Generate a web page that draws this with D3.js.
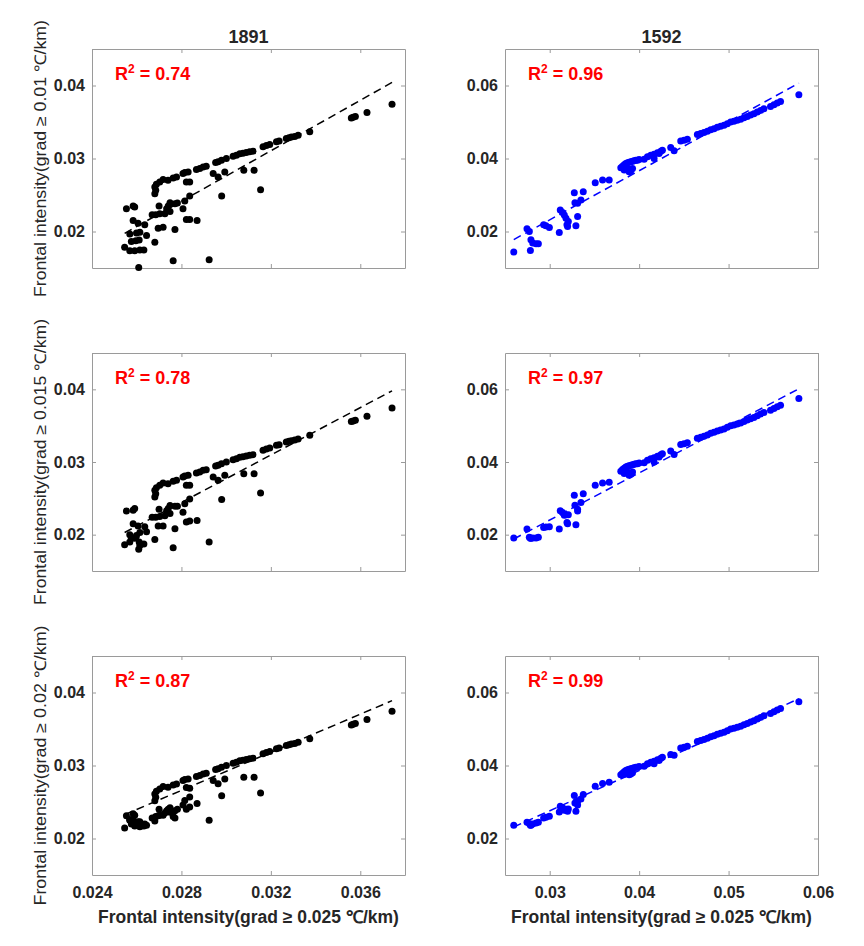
<!DOCTYPE html>
<html>
<head>
<meta charset="utf-8">
<script src="https://d3js.org/d3.v7.min.js"></script>
<style>
body { margin: 0; background: #fff; }
.ax .domain, .ax line { stroke: #9a9a9a; stroke-width: 1; }
.ax text { fill: #262626; font-size: 16px; font-weight: bold; font-family: 'Liberation Sans', Arial, sans-serif; }
</style>
</head>
<body>
<div id="chart"></div>
<script>
// ---- data ----
// left column (1891), shared x for the three rows
const xLeftUpper = [0.03742,0.03630,0.03578,0.03568,0.03560,0.03374,0.03322,0.03307,0.03292,0.03281,0.03269,0.03237,0.03225,0.03195,0.03180,0.03165,0.03120,0.03105,0.03090,0.03075,0.03061,0.03046,0.03031,0.03001,0.02979,0.02964,0.02953,0.02911,0.02897,0.02882,0.02867,0.02830,0.02815,0.02807,0.02778,0.02763,0.02740,0.02718,0.02703,0.02688,0.02681,0.02685,0.02681]
const yLeftUpper = [0.03744,0.03629,0.03574,0.03565,0.03556,0.03367,0.03317,0.03303,0.03294,0.03285,0.03275,0.03239,0.03230,0.03193,0.03179,0.03161,0.03101,0.03092,0.03083,0.03073,0.03064,0.03046,0.03032,0.03000,0.02977,0.02954,0.02945,0.02894,0.02885,0.02862,0.02849,0.02816,0.02807,0.02793,0.02748,0.02734,0.02702,0.02711,0.02679,0.02647,0.02610,0.02564,0.02518]
const xLeftLower = [0.02822,0.02837,0.02942,0.02964,0.02994,0.03079,0.03125,0.03154,0.02980,0.02837,0.02815,0.02807,0.02749,0.02741,0.02734,0.02749,0.02726,0.02771,0.02782,0.02700,0.02703,0.02685,0.02669,0.02822,0.02837,0.02870,0.02718,0.02696,0.02771,0.02681,0.02763,0.02924,0.02609,0.02554,0.02584,0.02591,0.02584,0.02606,0.02636,0.02569,0.02599,0.02614,0.02644,0.02576,0.02596,0.02611,0.02546,0.02569,0.02591,0.02614,0.02632]
const yLeftLowerTop = [0.02679,0.02679,0.02793,0.02748,0.02816,0.02839,0.02839,0.02573,0.02486,0.02486,0.02417,0.02311,0.02394,0.02348,0.02311,0.02275,0.02243,0.02380,0.02389,0.02348,0.02243,0.02229,0.02229,0.02165,0.02165,0.02151,0.02059,0.02045,0.02027,0.01853,0.01600,0.01614,0.01508,0.02311,0.02348,0.02334,0.02151,0.02114,0.02091,0.01967,0.01981,0.01990,0.01944,0.01862,0.01875,0.01885,0.01784,0.01738,0.01738,0.01747,0.01747]
const yLeftLowerMid = [0.02679,0.02679,0.02793,0.02748,0.02816,0.02839,0.02839,0.02575,0.02484,0.02492,0.02424,0.02310,0.02400,0.02360,0.02330,0.02290,0.02260,0.02390,0.02390,0.02350,0.02250,0.02240,0.02240,0.02173,0.02187,0.02196,0.02118,0.02118,0.02081,0.01935,0.01820,0.01900,0.01800,0.02324,0.02337,0.02360,0.02150,0.02120,0.02110,0.02000,0.01990,0.02030,0.02040,0.01950,0.01960,0.01900,0.01860,0.01900,0.01950,0.01850,0.01870]
const yLeftLowerBot = [0.02700,0.02690,0.02795,0.02750,0.02816,0.02839,0.02839,0.02622,0.02585,0.02567,0.02520,0.02460,0.02420,0.02400,0.02380,0.02360,0.02350,0.02380,0.02400,0.02400,0.02320,0.02300,0.02280,0.02400,0.02430,0.02480,0.02320,0.02310,0.02280,0.02240,0.02300,0.02250,0.02200,0.02310,0.02340,0.02320,0.02250,0.02230,0.02200,0.02250,0.02200,0.02230,0.02180,0.02200,0.02210,0.02190,0.02143,0.02260,0.02170,0.02160,0.02170]

// right column (1592), shared x for the three rows
const xRightLower = [0.02598,0.02784,0.02746,0.02772,0.02790,0.02810,0.02847,0.02873,0.02932,0.02958,0.02996,0.03107,0.03118,0.03144,0.03163,0.03182,0.03208,0.03193,0.03200,0.03275,0.03282,0.03312,0.03349,0.03375,0.03312,0.03293,0.03509,0.03591,0.03665]
const yRightLowerTop = [0.01437,0.01482,0.02073,0.02000,0.01773,0.01682,0.01664,0.01664,0.02182,0.02155,0.02109,0.01973,0.02591,0.02518,0.02455,0.02364,0.02273,0.02182,0.02136,0.03064,0.02791,0.02773,0.02864,0.03091,0.02409,0.02155,0.03336,0.03409,0.03409]
const yRightLowerMid = [0.01909,0.01900,0.02155,0.01927,0.01900,0.01910,0.01909,0.01927,0.02200,0.02210,0.02218,0.02155,0.02655,0.02610,0.02536,0.02550,0.02550,0.02337,0.02300,0.03082,0.02809,0.02700,0.02882,0.03127,0.02650,0.02270,0.03360,0.03420,0.03440]
const yRightLowerBot = [0.02362,0.02362,0.02445,0.02408,0.02362,0.02399,0.02426,0.02445,0.02563,0.02580,0.02609,0.02728,0.02884,0.02840,0.02774,0.02800,0.02810,0.02770,0.02750,0.03177,0.02975,0.03021,0.03085,0.03204,0.02920,0.02747,0.03433,0.03506,0.03542]
const xRightUpper = [0.03795,0.03814,0.03833,0.03851,0.03870,0.03888,0.03907,0.03926,0.03944,0.03963,0.03981,0.03888,0.03907,0.03870,0.03926,0.03833,0.04000,0.04056,0.04093,0.04130,0.04167,0.04205,0.04242,0.04260,0.04223,0.04167,0.04353,0.04391,0.04465,0.04502,0.04539,0.04651,0.04688,0.04725,0.04763,0.04800,0.04837,0.04874,0.04911,0.04949,0.04986,0.05023,0.05060,0.05097,0.05135,0.05172,0.05209,0.05246,0.05283,0.05321,0.05358,0.05395,0.05469,0.05507,0.05544,0.05581,0.05786]
const yRightUpperTop = [0.03745,0.03791,0.03827,0.03864,0.03882,0.03900,0.03909,0.03927,0.03936,0.03955,0.03955,0.03636,0.03664,0.03727,0.03727,0.03682,0.03973,0.03982,0.04045,0.04091,0.04118,0.04155,0.04200,0.04227,0.04136,0.04000,0.04300,0.04209,0.04482,0.04500,0.04527,0.04655,0.04682,0.04709,0.04745,0.04791,0.04818,0.04855,0.04882,0.04909,0.04955,0.05000,0.05018,0.05045,0.05073,0.05118,0.05154,0.05191,0.05227,0.05273,0.05318,0.05364,0.05427,0.05473,0.05518,0.05564,0.05745]
const yRightUpperBot = [0.03745,0.03791,0.03827,0.03864,0.03882,0.03900,0.03909,0.03927,0.03936,0.03955,0.03955,0.03750,0.03770,0.03780,0.03800,0.03760,0.03973,0.03982,0.04045,0.04091,0.04118,0.04155,0.04200,0.04227,0.04136,0.04050,0.04300,0.04280,0.04482,0.04500,0.04527,0.04655,0.04682,0.04709,0.04745,0.04791,0.04818,0.04855,0.04882,0.04909,0.04955,0.05000,0.05018,0.05045,0.05073,0.05118,0.05154,0.05191,0.05227,0.05273,0.05318,0.05364,0.05427,0.05473,0.05518,0.05564,0.05745]

// fitted lines y = a + b*x [row][col]
const fitSlope = [[1.728, 1.344], [1.630, 1.297], [1.305, 1.102]]
const fitIntercept = [[-0.02424, -0.01712], [-0.02120, -0.01488], [-0.00995, -0.00547]]
const r2Labels = [["0.74", "0.96"], ["0.78", "0.97"], ["0.87", "0.99"]]

const colTitles = ["1891", "1592"]
const rowTitles = ["Frontal intensity(grad \u2265 0.01 \u2103/km)", "Frontal intensity(grad \u2265 0.015 \u2103/km)", "Frontal intensity(grad \u2265 0.02 \u2103/km)"]
const xTitle = "Frontal intensity(grad \u2265 0.025 \u2103/km)"
const xTicks = [[0.024, 0.028, 0.032, 0.036], [0.03, 0.04, 0.05, 0.06]]
const xTickLabels = [["0.024", "0.028", "0.032", "0.036"], ["0.03", "0.04", "0.05", "0.06"]]
const yTicks = [[0.02, 0.03, 0.04], [0.02, 0.04, 0.06]]
const yTickLabels = [["0.02", "0.03", "0.04"], ["0.02", "0.04", "0.06"]]

// ---- layout ----
const width = 864, height = 946
const colX = [[92, 405], [505, 818]]
const rowY = [[49, 268], [353, 571], [656, 875]]
const xDomains = [[0.024, 0.038], [0.025, 0.06]]
const yDomains = [[0.015, 0.045], [0.01, 0.07]]
const dotColor = ["#000000", "#0000ff"]

const xCols = [xLeftUpper.concat(xLeftLower), xRightLower.concat(xRightUpper)]
const yCells = [
	[yLeftUpper.concat(yLeftLowerTop), yRightLowerTop.concat(yRightUpperTop)],
	[yLeftUpper.concat(yLeftLowerMid), yRightLowerMid.concat(yRightUpperTop)],
	[yLeftUpper.concat(yLeftLowerBot), yRightLowerBot.concat(yRightUpperBot)]
]

const svg = d3.select("#chart").append("svg")
	.attr("width", width)
	.attr("height", height)
	.style("font-family", "'Liberation Sans', Arial, sans-serif")

for (let r = 0; r < 3; r++) {
	for (let c = 0; c < 2; c++) {
		const x = d3.scaleLinear().domain(xDomains[c]).range(colX[c])
		const y = d3.scaleLinear().domain(yDomains[c]).range([rowY[r][1], rowY[r][0]])
		const g = svg.append("g")

		// box with inward ticks on all four sides
		g.append("g").attr("class", "ax")
			.attr("transform", `translate(0,${rowY[r][1]})`)
			.call(d3.axisBottom(x).tickValues(xTicks[c]).tickSize(-4).tickSizeOuter(0).tickPadding(12)
				.tickFormat((d, i) => r === 2 ? xTickLabels[c][i] : ""))
		g.append("g").attr("class", "ax")
			.attr("transform", `translate(0,${rowY[r][0]})`)
			.call(d3.axisTop(x).tickValues(xTicks[c]).tickSize(-4).tickSizeOuter(0).tickFormat(""))
		g.append("g").attr("class", "ax")
			.attr("transform", `translate(${colX[c][0]},0)`)
			.call(d3.axisLeft(y).tickValues(yTicks[c]).tickSize(-4).tickSizeOuter(0).tickPadding(7)
				.tickFormat((d, i) => yTickLabels[c][i]))
		g.append("g").attr("class", "ax")
			.attr("transform", `translate(${colX[c][1]},0)`)
			.call(d3.axisRight(y).tickValues(yTicks[c]).tickSize(-4).tickSizeOuter(0).tickFormat(""))

		// points
		const pts = xCols[c].map((v, i) => [v, yCells[r][c][i]])
		g.selectAll("circle")
			.data(pts)
			.enter()
			.append("circle")
			.attr("cx", d => x(d[0]))
			.attr("cy", d => y(d[1]))
			.attr("r", 3.5)
			.attr("fill", dotColor[c])

		// fitted dashed line over the data range
		const ext = d3.extent(xCols[c])
		const line = d3.line().x(d => x(d)).y(d => y(fitIntercept[r][c] + fitSlope[r][c] * d))
		g.append("path")
			.datum(ext)
			.attr("fill", "none")
			.attr("stroke", dotColor[c])
			.attr("stroke-width", 1.5)
			.attr("stroke-dasharray", "8,5")
			.attr("d", line)

		// R^2 label
		const t = g.append("text")
			.attr("x", colX[c][0] + 23)
			.attr("y", rowY[r][0] + 31)
			.attr("fill", "#ff0000")
			.attr("font-size", 18)
			.attr("font-weight", "bold")
		t.append("tspan").text("R")
		t.append("tspan").attr("font-size", 12).attr("dy", -7).text("2")
		t.append("tspan").attr("dy", 7).text(" = " + r2Labels[r][c])
	}
}

// column titles
colTitles.forEach((s, c) => {
	svg.append("text")
		.attr("x", (colX[c][0] + colX[c][1]) / 2)
		.attr("y", 43)
		.attr("text-anchor", "middle")
		.attr("font-size", 18)
		.attr("font-weight", "bold")
		.attr("fill", "#262626")
		.text(s)
})

// y-axis titles (condensed)
const rowTitleLen = [277, 286, 280]
rowTitles.forEach((s, r) => {
	const cy = (rowY[r][0] + rowY[r][1]) / 2
	svg.append("text")
		.attr("transform", `translate(46,${cy}) rotate(-90)`)
		.attr("text-anchor", "middle")
		.attr("font-size", 16)
		.attr("fill", "#262626")
		.attr("textLength", rowTitleLen[r])
		.attr("lengthAdjust", "spacingAndGlyphs")
		.style("font-family", "'Liberation Sans Narrow', 'Arial Narrow', 'Liberation Sans', sans-serif")
		.text(s)
})

// x-axis titles
colX.forEach(cx => {
	svg.append("text")
		.attr("x", (cx[0] + cx[1]) / 2)
		.attr("y", 923)
		.attr("text-anchor", "middle")
		.attr("font-size", 17.5)
		.attr("font-weight", "bold")
		.attr("fill", "#262626")
		.text(xTitle)
})
</script>
</body>
</html>
